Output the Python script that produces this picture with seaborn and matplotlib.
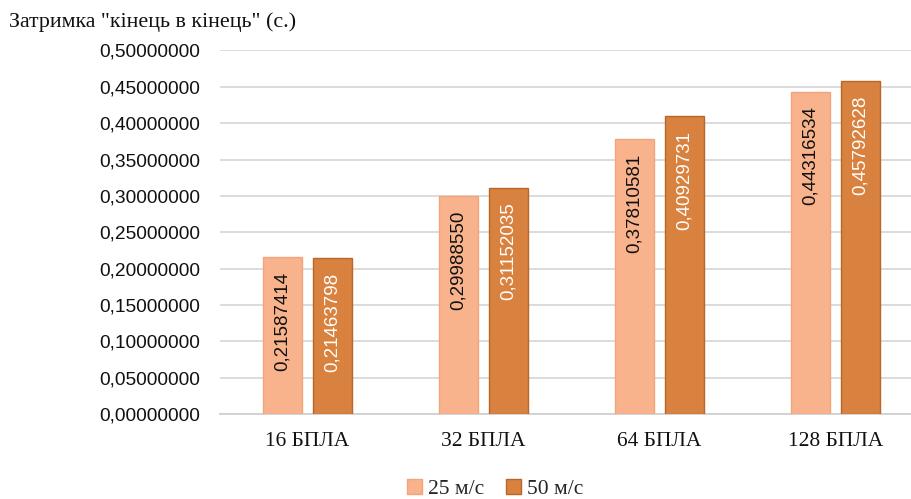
import matplotlib
matplotlib.use("Agg")
import matplotlib.pyplot as plt
from matplotlib.patches import Patch
import pandas as pd
import seaborn as sns

# Chart data
categories = ["16 БПЛА", "32 БПЛА", "64 БПЛА", "128 БПЛА"]
series_names = ["25 м/с", "50 м/с"]
delay_25 = [0.21587414, 0.29988550, 0.37810581, 0.44316534]
delay_50 = [0.21463798, 0.31152035, 0.40929731, 0.45792628]
y_ticks = [0.00, 0.05, 0.10, 0.15, 0.20, 0.25, 0.30, 0.35, 0.40, 0.45, 0.50]
title = "Затримка \"кінець в кінець\" (с.)"

fill_colors = ["#F8B38D", "#D9823F"]
edge_colors = ["#F0A57C", "#B8662C"]
text_colors = ["#111111", "#FFFFFF"]

df = pd.DataFrame({
    "category": categories * 2,
    "speed": [series_names[0]] * len(categories) + [series_names[1]] * len(categories),
    "delay": delay_25 + delay_50,
})

sns.set_theme(style="white")
plt.rcParams["font.family"] = ["Liberation Sans", "DejaVu Sans"]

fig = plt.figure(figsize=(9.12, 4.99), dpi=100)
ax = fig.add_axes([0.2407, 0.1703, 0.7593, 0.7285])

sns.barplot(data=df, x="category", y="delay", hue="speed",
            order=categories, hue_order=series_names,
            palette=fill_colors, saturation=1, width=0.568, gap=0.225,
            legend=False, ax=ax, zorder=3)

serif = ["Liberation Serif", "DejaVu Serif"]

for i, cont in enumerate(ax.containers):
    values = delay_25 if i == 0 else delay_50
    for bar, v in zip(cont, values):
        bar.set_edgecolor(edge_colors[i])
        bar.set_linewidth(1.0)
        cx = bar.get_x() + bar.get_width() / 2
        ax.annotate(f"{v:.8f}".replace(".", ","), xy=(cx, v),
                    xytext=(0, -10.5), textcoords="offset points",
                    rotation=90, ha="center", va="top",
                    fontsize=13.5, color=text_colors[i], zorder=4)

ax.set_ylim(0, 0.5)
ax.set_xlim(-0.5, 3.435)
ax.set_yticks(y_ticks)
ax.set_yticklabels([f"{t:.8f}".replace(".", ",") for t in y_ticks], fontsize=13.8)
ax.set_xticks(range(len(categories)))
ax.set_xticklabels(categories, fontsize=15.5, family=serif)
ax.tick_params(axis="both", length=0, colors="#111111")
ax.tick_params(axis="y", pad=14)
ax.tick_params(axis="x", pad=13)
ax.set_xlabel("")
ax.set_ylabel("")

ax.yaxis.grid(True, color="#D9D9D9", linewidth=1.3, zorder=0)
ax.set_axisbelow(True)
for side in ["left", "right", "top"]:
    ax.spines[side].set_visible(False)
ax.spines["bottom"].set_color("#D0D0D0")
ax.spines["bottom"].set_linewidth(1.3)

fig.text(0.010, 0.956, title, fontsize=15.8, family=serif, va="center",
         ha="left", color="#111111")

handles = [Patch(facecolor=fill_colors[i], edgecolor=edge_colors[i])
           for i in range(2)]
fig.legend(handles, series_names, loc="center", bbox_to_anchor=(0.543, 0.02),
           ncol=2, frameon=False, handlelength=0.7, handleheight=0.7,
           handletextpad=0.3, columnspacing=1.0,
           prop={"family": serif, "size": 15.5})

fig.savefig("out.png", dpi=100)
